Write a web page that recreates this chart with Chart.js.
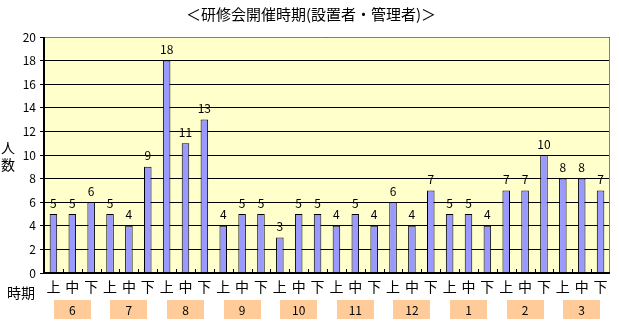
<!DOCTYPE html>
<html>
<head>
<meta charset="utf-8">
<script src="https://cdn.jsdelivr.net/npm/chart.js@4"></script>
<style>
  html, body { margin: 0; padding: 0; background: #fff; }
  #wrap { width: 619px; height: 324px; position: relative; }
</style>
</head>
<body>
<div id="wrap"><canvas id="c"></canvas></div>
<script>
// data
const months = ["6", "7", "8", "9", "10", "11", "12", "1", "2", "3"];
const parts = ["上", "中", "下"];
const counts = [
  5, 5, 6,
  5, 4, 9,
  18, 11, 13,
  4, 5, 5,
  3, 5, 5,
  4, 5, 4,
  6, 4, 7,
  5, 5, 4,
  7, 7, 10,
  8, 8, 7
];
const labels = [];
months.forEach(() => parts.forEach(p => labels.push(p)));

const titleText = "＜研修会開催時期(設置者・管理者)＞";
const font = "'Noto Sans CJK JP', sans-serif";

const decor = {
  id: "decor",
  beforeDraw(chart) {
    const { ctx, chartArea: a } = chart;
    ctx.save();
    ctx.fillStyle = "#FFFFCC";
    ctx.fillRect(a.left, a.top, a.right - a.left, a.bottom - a.top);
    ctx.restore();
  },
  afterDatasetsDraw(chart) {
    const { ctx, chartArea: a } = chart;
    const x = chart.scales.x;
    const meta = chart.getDatasetMeta(0);
    ctx.save();
    // frame
    ctx.strokeStyle = "#808080";
    ctx.lineWidth = 1;
    ctx.beginPath();
    ctx.moveTo(a.left, a.top + 0.5);
    ctx.lineTo(a.right - 0.5, a.top + 0.5);
    ctx.lineTo(a.right - 0.5, a.bottom);
    ctx.stroke();
    ctx.strokeStyle = "#000";
    ctx.lineWidth = 2;
    ctx.beginPath();
    ctx.moveTo(a.left, a.top);
    ctx.lineTo(a.left, a.bottom);
    ctx.lineTo(a.right, a.bottom);
    ctx.stroke();
    // inside tick marks between categories
    ctx.lineWidth = 1;
    const step = (a.right - a.left) / labels.length;
    ctx.beginPath();
    for (let i = 1; i < labels.length; i++) {
      const px = Math.round(a.left + step * i) + 0.5;
      ctx.moveTo(px, a.bottom);
      ctx.lineTo(px, a.bottom - 4);
    }
    ctx.stroke();
    // value labels
    ctx.fillStyle = "#000";
    ctx.font = "12px " + font;
    ctx.textAlign = "center";
    ctx.textBaseline = "bottom";
    meta.data.forEach((bar, i) => {
      ctx.fillText(String(counts[i]), bar.x, bar.y - 5);
    });
    // title
    ctx.font = "15px " + font;
    ctx.textBaseline = "middle";
    ctx.fillText(titleText, 311, 14);
    // axis captions
    ctx.font = "14px " + font;
    ctx.fillText("人", 8, 148);
    ctx.fillText("数", 8, 165);
    ctx.fillText("時期", 21, 293);
    // category labels under the axis
    labels.forEach((p, i) => {
      ctx.fillText(p, x.getPixelForValue(i), 287);
    });
    // month boxes
    months.forEach((m, i) => {
      const c = (x.getPixelForValue(i * 3) + x.getPixelForValue(i * 3 + 2)) / 2;
      ctx.fillStyle = "#FFCC99";
      ctx.fillRect(Math.round(c - 18.5), 300, 37, 19);
      ctx.fillStyle = "#000";
      ctx.font = "12px " + font;
      ctx.fillText(m, c, 310);
    });
    ctx.restore();
  }
};

new Chart(document.getElementById("c"), {
  type: "bar",
  data: {
    labels: labels,
    datasets: [{
      data: counts,
      backgroundColor: "#9999FF",
      borderColor: "#000",
      borderWidth: 1,
      barPercentage: 0.4,
      categoryPercentage: 1
    }]
  },
  options: {
    responsive: true,
    maintainAspectRatio: false,
    animation: false,
    layout: { padding: { top: 37, right: 9, left: 0, bottom: 0 } },
    plugins: { legend: { display: false }, tooltip: { enabled: false } },
    scales: {
      x: {
        afterFit: s => { s.height = 51; },
        grid: { display: false },
        border: { display: false },
        ticks: { display: false }
      },
      y: {
        min: 0, max: 20,
        afterFit: s => { s.width = 44; },
        border: { display: false },
        grid: { color: "#000", lineWidth: 1, tickLength: 4, drawTicks: true },
        ticks: { stepSize: 2, color: "#000", font: { size: 12, family: font }, padding: 4 }
      }
    }
  },
  plugins: [decor]
});
</script>
</body>
</html>
